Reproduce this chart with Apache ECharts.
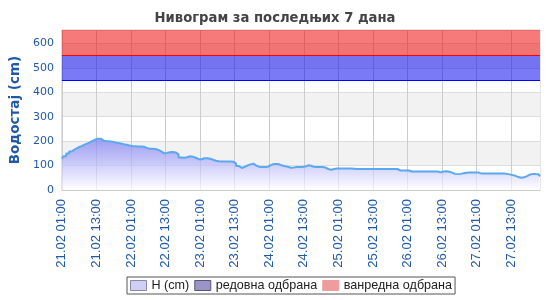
<!DOCTYPE html>
<html><head><meta charset="utf-8">
<script src="https://cdn.jsdelivr.net/npm/echarts@6/dist/echarts.min.js"></script>
<style>html,body{margin:0;padding:0;background:#fff}#c{width:550px;height:300px}</style>
</head><body><div id="c"></div>
<script>
const titleText = 'Нивограм за последњих 7 дана';
const yAxisName = 'Водостај (cm)';
const seriesName = 'H (cm)';
const regularName = 'редовна одбрана';
const emergencyName = 'ванредна одбрана';
const regularLevel = 450;
const emergencyLevel = 550;
const yMax = 655;
const startDay = 21, startHour = 1;
const levels = [
128,138,149,158,166,173,178,184,189,194,200,206,210,210,202,200,200,198,195,192,
190,187,185,182,180,179,178,178,177,172,169,169,168,164,158,150,152,155,156,154,
146,133,132,134,138,136,132,126,126,130,130,128,124,120,118,117,117,117,117,116,
108,98,90,95,101,105,108,100,95,94,94,95,102,106,106,105,100,97,95,91,
92,94,94,94,96,101,99,95,94,94,94,92,86,83,86,88,88,88,88,88,
88,87,86,86,86,86,86,86,86,86,86,86,86,86,86,86,86,80,80,80,
80,76,76,76,76,76,76,76,76,76,76,72,76,77,75,71,66,65,66,69,
71,72,72,72,72,68,68,68,68,68,68,68,68,68,66,64,61,58,53,50,
52,57,63,65,65,64,56];
const pad = n => (n < 10 ? '0' : '') + n;
const categories = levels.map((v, i) => {
  const t = startHour + i;
  const d = startDay + Math.floor(t / 24);
  return pad(d) + '.02 ' + pad(t % 24) + ':00';
});
const blue = '#2059a8';
const chart = echarts.init(document.getElementById('c'));
chart.setOption({
  animation: false,
  title: { text: titleText, left: 'center', top: 7,
    textStyle: { fontFamily: 'DejaVu Sans', fontSize: 13.2, fontWeight: 'bold', color: '#444' } },
  grid: { left: 60, right: 10, top: 30, bottom: 110, show: true, borderColor: '#ccc', borderWidth: 1 },
  legend: {
    bottom: 6, left: 127, itemGap: 5, itemWidth: 16, itemHeight: 10,
    borderColor: '#555', borderWidth: 1, padding: [2, 3], borderRadius: 0,
    textStyle: { fontFamily: 'Liberation Sans', fontSize: 12.6, color: '#222' },
    data: [
      { name: seriesName, icon: 'rect', itemStyle: { color: '#d0d0f4', borderColor: '#8888aa', borderWidth: 1 } },
      { name: regularName, icon: 'rect', itemStyle: { color: '#9c94c8', borderColor: '#555577', borderWidth: 1 } },
      { name: emergencyName, icon: 'rect', itemStyle: { color: '#ee9c9c', borderColor: '#ee9c9c', borderWidth: 1 } }
    ]
  },
  xAxis: {
    type: 'category', data: categories, boundaryGap: false,
    axisLine: { lineStyle: { color: '#ccc' } },
    axisTick: { show: false },
    axisLabel: { interval: 11, rotate: 90, color: blue, fontFamily: 'Liberation Sans', fontSize: 13, margin: 9 },
    splitLine: { show: true, interval: 11, lineStyle: { color: '#ccc' } }
  },
  yAxis: {
    type: 'value', min: 0, max: yMax, interval: 100,
    name: yAxisName, nameLocation: 'middle', nameGap: 30, nameRotate: 90,
    nameTextStyle: { color: blue, fontFamily: 'DejaVu Sans', fontSize: 13.5, fontWeight: 'bold' },
    axisLine: { show: false }, axisTick: { show: false },
    axisLabel: { color: blue, fontFamily: 'DejaVu Sans', fontSize: 11, margin: 8, showMaxLabel: false,
      formatter: v => (v % 100 === 0 ? String(v) : '') },
    splitLine: { lineStyle: { color: '#ddd' } },
    splitArea: { show: true, areaStyle: { color: ['#ffffff', '#f2f2f2'] } }
  },
  series: [
    {
      name: seriesName, type: 'line', data: levels, symbol: 'none', step: 'middle',
      lineStyle: { color: '#5aa8ee', width: 2 },
      itemStyle: { color: '#d0d0f4' },
      areaStyle: { color: new echarts.graphic.LinearGradient(0, 0, 0, 1, [
        { offset: 0, color: 'rgba(115,115,245,0.95)' },
        { offset: 1, color: 'rgba(255,255,255,1)' }
      ]) },
      z: 3
    },
    {
      name: regularName, type: 'line', data: [], itemStyle: { color: '#9c94c8' },
      markArea: { silent: true, itemStyle: { color: 'rgba(0,0,240,0.52)' },
        data: [[{ yAxis: regularLevel }, { yAxis: emergencyLevel }]] },
      markLine: { silent: true, symbol: 'none', label: { show: false },
        lineStyle: { color: '#0000ff', type: 'solid', width: 1 }, data: [{ yAxis: regularLevel }] }
    },
    {
      name: emergencyName, type: 'line', data: [], itemStyle: { color: '#ee9c9c' },
      markArea: { silent: true, itemStyle: { color: 'rgba(240,0,0,0.52)' },
        data: [[{ yAxis: emergencyLevel }, { yAxis: yMax }]] },
      markLine: { silent: true, symbol: 'none', label: { show: false },
        lineStyle: { color: '#ff0000', type: 'solid', width: 1 }, data: [{ yAxis: emergencyLevel }] }
    }
  ]
});
</script></body></html>
